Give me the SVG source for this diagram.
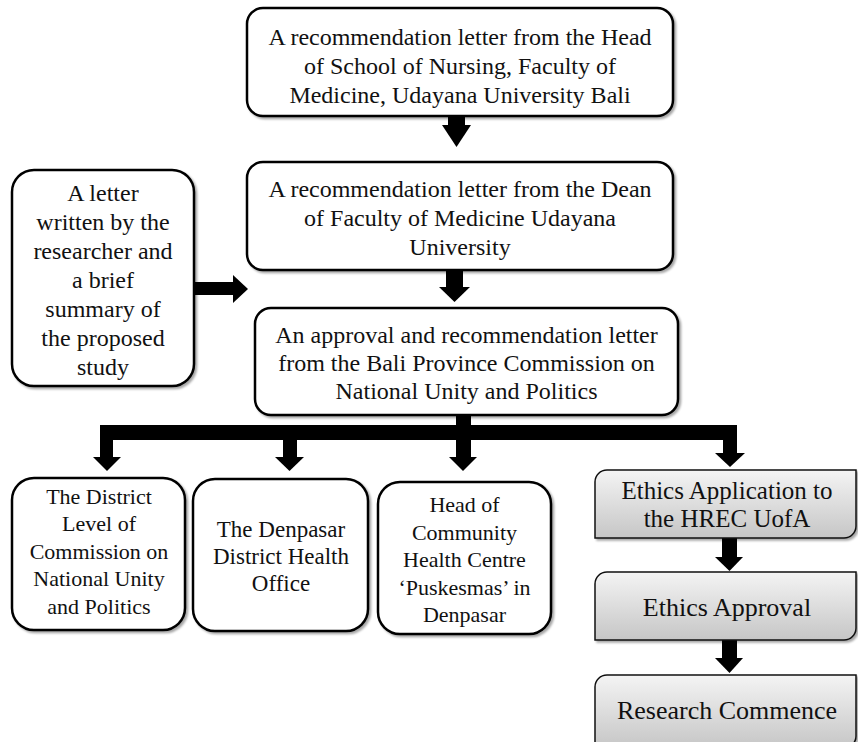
<svg xmlns="http://www.w3.org/2000/svg" width="858" height="742" viewBox="0 0 858 742">
<defs>
  <filter id="sh" x="-5%" y="-5%" width="115%" height="115%">
    <feDropShadow dx="2" dy="2" stdDeviation="1.2" flood-color="#000" flood-opacity="0.35"/>
  </filter>
  <linearGradient id="gr" x1="0" y1="0" x2="0" y2="1">
    <stop offset="0" stop-color="#f4f4f4"/>
    <stop offset="1" stop-color="#c6c6c6"/>
  </linearGradient>
</defs>
<style>
  .box { fill: #fff; stroke: #000; stroke-width: 2.5; filter: url(#sh); }
  .eth { fill: url(#gr); stroke: #111; stroke-width: 1.5; filter: url(#sh); }
  text { font-family: "Liberation Serif", "Times New Roman", serif; fill: #111; text-anchor: middle; }
  .t24 { font-size: 24px; }
  .t22 { font-size: 22px; }
  .t23 { font-size: 23px; }
  .t26 { font-size: 26px; }
  .t25 { font-size: 25px; }
  .arr { fill: #000; }
</style>
<rect width="858" height="742" fill="#fff"/>

<g id="connectors">
  <rect class="arr" x="448" y="115" width="17" height="11"/>
  <polygon class="arr" points="442,125 471,125 456.5,147"/>
  <rect class="arr" x="446" y="269" width="17" height="19"/>
  <polygon class="arr" points="439,287 470,287 454.5,302"/>
  <rect class="arr" x="193" y="282" width="41" height="13"/>
  <polygon class="arr" points="233,275 233,303 248,289"/>
  <rect class="arr" x="456" y="414" width="15" height="44"/>
  <polygon class="arr" points="449,457 477,457 463,471"/>
  <rect class="arr" x="100" y="425" width="637" height="15"/>
  <rect class="arr" x="100" y="425" width="13" height="33"/>
  <polygon class="arr" points="93,457 121,457 107,471"/>
  <rect class="arr" x="283" y="439" width="14" height="19"/>
  <polygon class="arr" points="275,457 304,457 289.5,471"/>
  <rect class="arr" x="723" y="425" width="14" height="29"/>
  <polygon class="arr" points="715,453 745,453 730,467"/>
  <rect class="arr" x="722" y="537" width="15" height="21"/>
  <polygon class="arr" points="715,557 743,557 729.5,571"/>
  <rect class="arr" x="722" y="639" width="15" height="20"/>
  <polygon class="arr" points="715,658 743,658 729.5,673"/>
</g>

<g id="node-head-nursing">
  <rect class="box" x="247" y="8" width="426" height="108" rx="16"/>
  <text class="t24" x="460" y="45">A recommendation letter from the Head</text>
  <text class="t24" x="460" y="74">of School of Nursing, Faculty of</text>
  <text class="t24" x="460" y="103">Medicine, Udayana University Bali</text>
</g>

<g id="node-dean">
  <rect class="box" x="247" y="162" width="426" height="108" rx="16"/>
  <text class="t24" x="460" y="197">A recommendation letter from the Dean</text>
  <text class="t24" x="460" y="226">of Faculty of Medicine Udayana</text>
  <text class="t24" x="460" y="255">University</text>
</g>

<g id="node-researcher-letter">
  <rect class="box" x="12" y="170" width="182" height="216" rx="22"/>
  <text class="t24" x="103" y="201">A letter</text>
  <text class="t24" x="103" y="230">written by the</text>
  <text class="t24" x="103" y="259">researcher and</text>
  <text class="t24" x="103" y="288">a brief</text>
  <text class="t24" x="103" y="317">summary of</text>
  <text class="t24" x="103" y="346">the proposed</text>
  <text class="t24" x="103" y="375">study</text>
</g>

<g id="node-bali-province">
  <rect class="box" x="255" y="308" width="423" height="107" rx="16"/>
  <text class="t24" x="466.5" y="343">An approval and recommendation letter</text>
  <text class="t24" x="466.5" y="371">from the Bali Province Commission on</text>
  <text class="t24" x="466.5" y="399">National Unity and Politics</text>
</g>

<g id="node-district-commission">
  <rect class="box" x="12" y="478" width="173" height="152" rx="22"/>
  <text class="t22" x="99" y="504">The District</text>
  <text class="t22" x="99" y="531">Level of</text>
  <text class="t22" x="99" y="559">Commission on</text>
  <text class="t22" x="99" y="586">National Unity</text>
  <text class="t22" x="99" y="614">and Politics</text>
</g>

<g id="node-district-health">
  <rect class="box" x="193" y="479" width="175" height="152" rx="22"/>
  <text class="t23" x="281" y="537">The Denpasar</text>
  <text class="t23" x="281" y="564">District Health</text>
  <text class="t23" x="281" y="591">Office</text>
</g>

<g id="node-puskesmas">
  <rect class="box" x="378" y="482" width="173" height="152" rx="22"/>
  <text class="t22" x="464.5" y="512">Head of</text>
  <text class="t22" x="464.5" y="540">Community</text>
  <text class="t22" x="464.5" y="567">Health Centre</text>
  <text class="t22" x="464.5" y="595">‘Puskesmas’ in</text>
  <text class="t22" x="464.5" y="622">Denpasar</text>
</g>

<g id="node-ethics-application">
  <path class="eth" d="M595,482 A12,12 0 0 1 607,470 H856 V526 A12,12 0 0 1 844,538 H595 Z"/>
  <text class="t25" x="727" y="499">Ethics Application to</text>
  <text class="t25" x="727" y="527">the HREC UofA</text>
</g>

<g id="node-ethics-approval">
  <path class="eth" d="M595,584 A12,12 0 0 1 607,572 H856 V628 A12,12 0 0 1 844,640 H595 Z"/>
  <text class="t26" x="727" y="616">Ethics Approval</text>
</g>

<g id="node-research-commence">
  <path class="eth" d="M595,687 A12,12 0 0 1 607,675 H856 V736 A12,12 0 0 1 844,748 H595 Z"/>
  <text class="t26" x="727" y="719">Research Commence</text>
</g>
</svg>
